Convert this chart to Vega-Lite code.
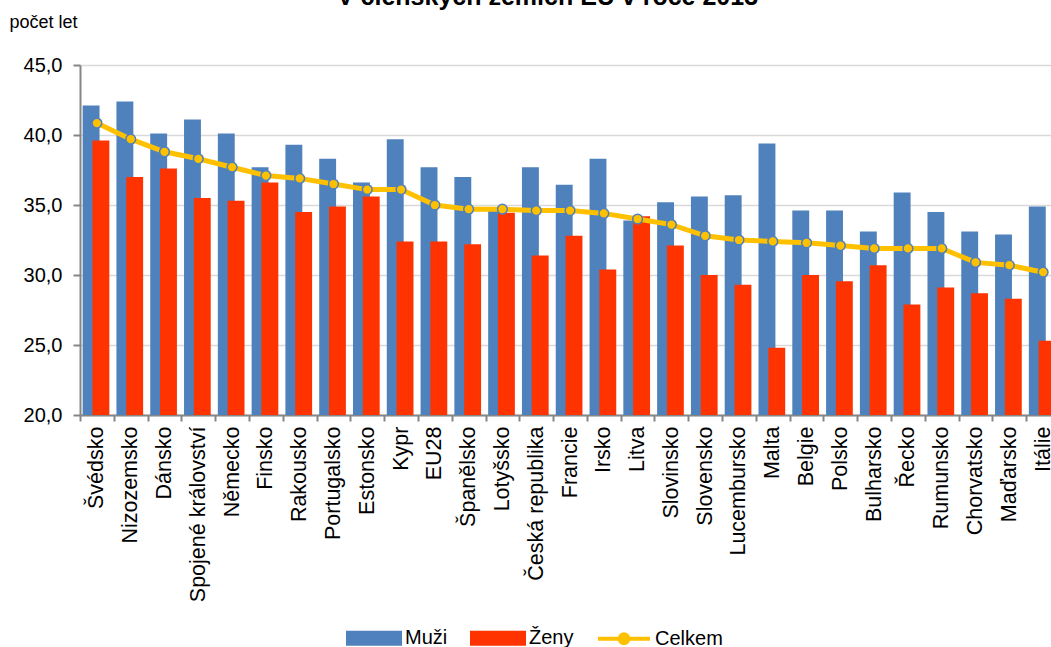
{
  "$schema": "https://vega.github.io/schema/vega-lite/v6.json",
  "autosize": {"type": "none"},
  "width": 971,
  "height": 350,
  "padding": {"left": 80, "top": 65, "right": 0, "bottom": 232},
  "background": "white",
  "title": {
    "text": "V členských zemích EU v roce 2013",
    "font": "Liberation Sans",
    "fontSize": 25,
    "fontWeight": "bold",
    "color": "black",
    "anchor": "middle",
    "frame": "group",
    "baseline": "alphabetic",
    "offset": 7,
    "dy": 24,
    "dx": -18
  },
  "config": {
    "view": {"stroke": null},
    "font": "Liberation Sans"
  },
  "data": {
    "values": [
      {"zeme": "Švédsko", "muzi": 42.1, "zeny": 39.6, "celkem": 40.85},
      {"zeme": "Nizozemsko", "muzi": 42.4, "zeny": 37.0, "celkem": 39.7},
      {"zeme": "Dánsko", "muzi": 40.1, "zeny": 37.6, "celkem": 38.8},
      {"zeme": "Spojené království", "muzi": 41.1, "zeny": 35.5, "celkem": 38.3},
      {"zeme": "Německo", "muzi": 40.1, "zeny": 35.3, "celkem": 37.7},
      {"zeme": "Finsko", "muzi": 37.7, "zeny": 36.6, "celkem": 37.1},
      {"zeme": "Rakousko", "muzi": 39.3, "zeny": 34.5, "celkem": 36.9},
      {"zeme": "Portugalsko", "muzi": 38.3, "zeny": 34.9, "celkem": 36.5},
      {"zeme": "Estonsko", "muzi": 36.6, "zeny": 35.6, "celkem": 36.1},
      {"zeme": "Kypr", "muzi": 39.7, "zeny": 32.4, "celkem": 36.1},
      {"zeme": "EU28", "muzi": 37.7, "zeny": 32.4, "celkem": 35.0},
      {"zeme": "Španělsko", "muzi": 37.0, "zeny": 32.2, "celkem": 34.7},
      {"zeme": "Lotyšsko", "muzi": 34.8, "zeny": 34.45, "celkem": 34.7},
      {"zeme": "Česká republika", "muzi": 37.7, "zeny": 31.4, "celkem": 34.6},
      {"zeme": "Francie", "muzi": 36.45, "zeny": 32.8, "celkem": 34.6},
      {"zeme": "Irsko", "muzi": 38.3, "zeny": 30.4, "celkem": 34.4},
      {"zeme": "Litva", "muzi": 33.9, "zeny": 34.2, "celkem": 34.0},
      {"zeme": "Slovinsko", "muzi": 35.2, "zeny": 32.1, "celkem": 33.6},
      {"zeme": "Slovensko", "muzi": 35.6, "zeny": 30.0, "celkem": 32.8},
      {"zeme": "Lucembursko", "muzi": 35.7, "zeny": 29.3, "celkem": 32.5},
      {"zeme": "Malta", "muzi": 39.4, "zeny": 24.8, "celkem": 32.4},
      {"zeme": "Belgie", "muzi": 34.6, "zeny": 30.0, "celkem": 32.3},
      {"zeme": "Polsko", "muzi": 34.6, "zeny": 29.55, "celkem": 32.1},
      {"zeme": "Bulharsko", "muzi": 33.1, "zeny": 30.7, "celkem": 31.9},
      {"zeme": "Řecko", "muzi": 35.9, "zeny": 27.9, "celkem": 31.9},
      {"zeme": "Rumunsko", "muzi": 34.5, "zeny": 29.1, "celkem": 31.9},
      {"zeme": "Chorvatsko", "muzi": 33.1, "zeny": 28.7, "celkem": 30.9},
      {"zeme": "Maďarsko", "muzi": 32.9, "zeny": 28.3, "celkem": 30.7},
      {"zeme": "Itálie", "muzi": 34.9, "zeny": 25.3, "celkem": 30.2}
    ]
  },
  "encoding": {
    "x": {
      "field": "zeme",
      "type": "nominal",
      "sort": null,
      "scale": {"range": [0, 980], "paddingInner": 0, "paddingOuter": 0},
      "axis": {
        "title": null,
        "labelAngle": -90,
        "labelFontSize": 21.5,
        "labelColor": "black",
        "labelPadding": 5,
        "labelLimit": 300,
        "tickBand": "extent",
        "tickSize": 6,
        "tickColor": "#868686",
        "tickWidth": 2,
        "domainColor": "#868686",
        "domainWidth": 2,
        "grid": false
      }
    }
  },
  "layer": [
    {
      "mark": {"type": "bar", "width": {"band": 0.5}, "xOffset": -5.8, "clip": false},
      "encoding": {
        "y": {
          "field": "muzi",
          "type": "quantitative",
          "scale": {"domain": [20, 45], "zero": false, "nice": false},
          "axis": {
            "title": "počet let",
            "titleAngle": 0,
            "titleAlign": "left",
            "titleBaseline": "alphabetic",
            "titleX": -71,
            "titleY": -38,
            "titleFontSize": 18,
            "titleFontWeight": "normal",
            "titleColor": "black",
            "values": [20, 25, 30, 35, 40, 45],
            "labelExpr": "replace(format(datum.value, '.1f'), '.', ',')",
            "labelFontSize": 20,
            "labelColor": "black",
            "labelPadding": 11,
            "tickSize": 7,
            "tickColor": "#868686",
            "tickWidth": 2,
            "domainColor": "#868686",
            "domainWidth": 2,
            "gridColor": "#d9d9d9",
            "gridWidth": 1.5
          }
        },
        "y2": {"datum": 20},
        "color": {
          "datum": "Muži",
          "scale": {"domain": ["Muži", "Ženy", "Celkem"], "range": ["#4f81bd", "#ff3300", "#ffc000"]},
          "legend": {
            "title": null,
            "orient": "none",
            "direction": "horizontal",
            "legendX": 266,
            "legendY": 545,
            "padding": 0,
            "labelFontSize": 20,
            "labelFontWeight": "normal",
            "labelFont": "Liberation Sans",
            "labelColor": "black",
            "labelOffset": 3,
            "columnPadding": 16,
            "symbolSize": 2704,
            "labelLimit": 200,
            "encode": {
              "labels": {"update": {"fontWeight": {"value": "normal"}}},
              "symbols": {
                "update": {
                  "shape": {"signal": "datum.value === 'Celkem' ? 'M-1,0H1M0.17,0A0.17,0.17,0,1,1,-0.17,0A0.17,0.17,0,1,1,0.17,0' : 'M-1,-0.21H1V0.21H-1Z'"},
                  "size": {"value": 2704},
                  "fill": {"signal": "datum.value === 'Celkem' ? '#ffc000' : (datum.value === 'Muži' ? '#4f81bd' : '#ff3300')"},
                  "stroke": {"signal": "datum.value === 'Celkem' ? '#ffc000' : 'transparent'"},
                  "strokeWidth": {"value": 4},
                  "opacity": {"value": 1},
                  "fillOpacity": {"value": 1}
                }
              }
            }
          }
        }
      }
    },
    {
      "mark": {"type": "bar", "width": {"band": 0.5}, "xOffset": 4.0, "clip": false},
      "encoding": {
        "y": {"field": "zeny", "type": "quantitative"},
        "y2": {"datum": 20},
        "color": {"datum": "Ženy"}
      }
    },
    {
      "mark": {"type": "line", "strokeWidth": 5, "clip": false},
      "encoding": {
        "y": {"field": "celkem", "type": "quantitative"},
        "color": {"datum": "Celkem"}
      }
    },
    {
      "mark": {"type": "point", "filled": true, "size": 95, "stroke": "#4f81bd", "strokeWidth": 1.5, "fill": "#ffc000", "opacity": 1},
      "encoding": {
        "y": {"field": "celkem", "type": "quantitative"}
      }
    }
  ]
}
